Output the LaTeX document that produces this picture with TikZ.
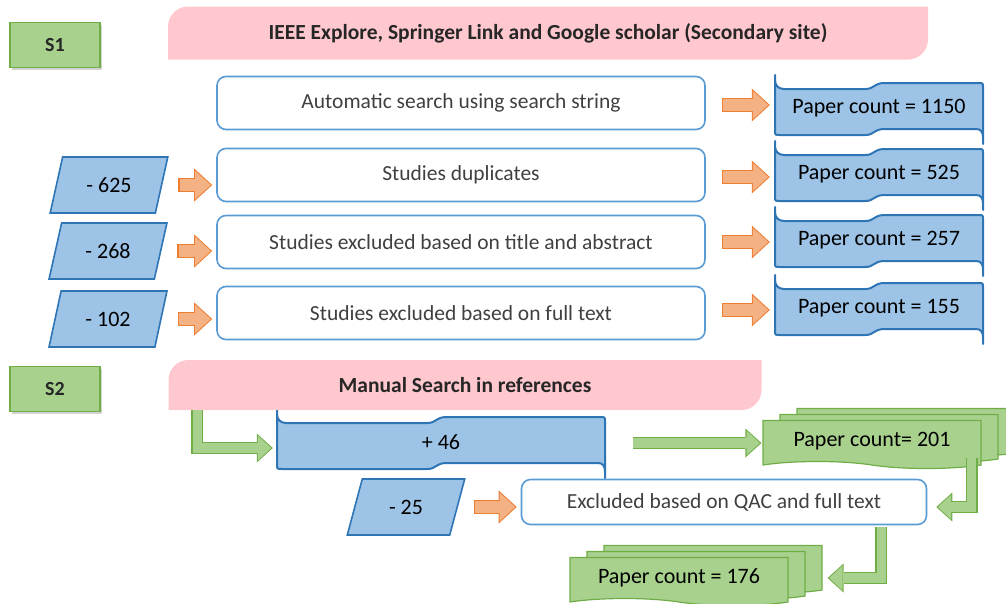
\documentclass[tikz,border=0pt]{standalone}
\usepackage{fontspec}
\setmainfont{Carlito}
\usepackage{tikz}
\usetikzlibrary{arrows.meta,calc,shadows,shapes.geometric,shapes.symbols}
\definecolor{slGreen}{RGB}{169,209,142}
\definecolor{slGreenDk}{RGB}{112,173,71}
\definecolor{slPink}{RGB}{255,199,206}
\definecolor{slBlue}{RGB}{157,195,230}
\definecolor{slBlueDk}{RGB}{46,117,182}
\definecolor{slFrame}{RGB}{91,155,213}
\definecolor{slOrange}{RGB}{244,177,131}
\definecolor{slOrangeDk}{RGB}{237,125,49}
\definecolor{slText}{RGB}{38,38,38}
\definecolor{slGray}{RGB}{64,64,64}
\tikzset{
    base/.style={font=\fontsize{21pt}{24pt}\selectfont, text=slText, align=center, inner sep=0pt},
    stage/.style={base, font=\fontsize{20pt}{24pt}\selectfont\bfseries, rectangle, draw=slGreenDk,
                  line width=1.5pt, fill=slGreen, minimum width=90pt, minimum height=45pt,
                  drop shadow={opacity=0.35, shadow xshift=1.5pt, shadow yshift=-2pt}},
    header/.style={base, font=\fontsize{21.5pt}{24pt}\selectfont\bfseries,
                   path picture={\fill[slPink] let \p1=(path picture bounding box.south west),
                     \p2=(path picture bounding box.north east) in
                     (\x1,\y1) -- (\x1,\y2-20pt) arc[start angle=180, end angle=90, radius=20pt]
                     -- (\x2,\y2) -- (\x2,\y1+20pt) arc[start angle=0, end angle=-90, radius=20pt] -- cycle;}},
    task/.style={base, text=slGray, font=\fontsize{21.5pt}{24pt}\selectfont, rectangle, rounded corners=9pt,
                 draw=slFrame, line width=1.6pt, fill=white, minimum width=488pt, minimum height=53pt},
    removed/.style={base, text=black, font=\fontsize{22pt}{24pt}\selectfont, trapezium, trapezium stretches=true,
                    trapezium left angle=68, trapezium right angle=112, draw=slBlueDk, line width=1.6pt,
                    fill=slBlue, minimum width=118pt, minimum height=56pt},
    count/.style={base, text=black, font=\fontsize{22pt}{24pt}\selectfont, minimum width=212pt, minimum height=76pt,
                  path picture={\draw[draw=slBlueDk, fill=slBlue, line width=2pt, line join=round]
                    let \p1=(path picture bounding box.west), \p2=(path picture bounding box.east),
                    \p3=(path picture bounding box.center) in
                    (\x1+2pt,\y1+33pt) -- (\x1+2pt,\y1-23pt) .. controls (\x1+2pt,\y1-27pt) .. (\x1+7pt,\y1-27pt)
                    -- (\x3-14pt,\y1-27pt) .. controls (\x3-4pt,\y1-27pt) and (\x3-6pt,\y1-21pt) .. (\x3+6pt,\y1-21pt)
                    -- (\x2-9pt,\y1-21pt) .. controls (\x2-4pt,\y1-21pt) and (\x2-2pt,\y1-24pt) .. (\x2-2pt,\y1-30pt)
                    -- (\x2-2pt,\y1-36pt) -- (\x2-2pt,\y1+21pt) .. controls (\x2-2pt,\y1+25pt) .. (\x2-7pt,\y1+25pt)
                    -- (\x3+6pt,\y1+25pt) .. controls (\x3-6pt,\y1+25pt) and (\x3-4pt,\y1+19pt) .. (\x3-14pt,\y1+19pt)
                    -- (\x1+11pt,\y1+19pt) .. controls (\x1+5pt,\y1+19pt) and (\x1+2pt,\y1+23pt) .. (\x1+2pt,\y1+28pt)
                    -- cycle;}},
    pile/.style={base, text=black, font=\fontsize{22pt}{24pt}\selectfont, tape, tape bend top=none,
                 tape bend bottom=out and in, tape bend height=7pt, draw=slGreenDk, line width=1.2pt,
                 fill=slGreen, minimum width=218pt, minimum height=48pt,
                 copy shadow={shadow xshift=34pt, shadow yshift=12pt, fill=slGreen, draw=slGreenDk},
                 copy shadow={shadow xshift=17pt, shadow yshift=6pt, fill=slGreen, draw=slGreenDk}},
    oarrow/.style={draw=slOrangeDk, line width=14pt, -{Triangle[length=18pt,width=33pt,line width=0pt]},
                   postaction={draw=slOrange, line width=11.5pt, shorten <=1.2pt, shorten >=1.5pt,
                   -{Triangle[length=15.5pt,width=28.5pt,line width=0pt]}}},
    garrow/.style={draw=slGreenDk, line width=12pt, line join=miter, -{Triangle[length=16pt,width=29pt,line width=0pt]},
                   postaction={draw=slGreen, line width=9.6pt, line join=miter, shorten >=1.6pt,
                   -{Triangle[length=13.3pt,width=24.6pt,line width=0pt]}}}
}

\begin{document}
\begin{tikzpicture}[x=1pt, y=-1pt]
  \useasboundingbox (0,0) rectangle (1006,603);

  % Stages
  \node[stage] (s1) at (55,45) {S1};
  \node[stage] (s2) at (55,389) {S2};

  % Secondary sites
  \node[header, minimum width=760pt, minimum height=53pt] (src) at (548,33)
    {IEEE Explore, Springer Link and Google scholar (Secondary site)};

  % Selection steps
  \node[task] (auto) at (461,103) {Automatic search using search string};
  \node[task] (dup) at (461,175) {Studies duplicates};
  \node[task] (title) at (461,242) {Studies excluded based on title and abstract};
  \node[task] (full) at (461,313) {Studies excluded based on full text};

  % Removed papers
  \node[removed] (m625) at (109,185) {- 625};
  \node[removed] (m268) at (108,251) {- 268};
  \node[removed] (m102) at (108,319) {- 102};

  % Paper counts
  \node[count] (c1150) at (879,108) {Paper count = 1150};
  \node[count] (c525) at (879,174) {Paper count = 525};
  \node[count] (c257) at (879,240) {Paper count = 257};
  \node[count] (c155) at (879,308) {Paper count = 155};

  % Manual search
  \node[count, minimum width=332pt] (plus) at (441,442) {+ 46};
  \node[header, minimum width=593pt, minimum height=50pt] (man) at (465,385) {Manual Search in references};
  \node[pile] (p201) at (872,441) {Paper count= 201};
  \node[task, minimum width=405pt, minimum height=45pt] (qac) at (724,502) {Excluded based on QAC and full text};
  \node[removed] (m25) at (406,507) {- 25};
  \node[pile] (p176) at (679,578) {Paper count = 176};

  % Arrows
  \draw[oarrow] ($(auto.east)+(16,2)$) -- ($(c1150.west |- auto.east)+(-3,2)$);
  \draw[oarrow] ($(dup.east)+(16,2)$) -- ($(c525.west |- dup.east)+(-3,2)$);
  \draw[oarrow] ($(title.east)+(16,0)$) -- ($(c257.west |- title.east)+(-3,0)$);
  \draw[oarrow] ($(full.east)+(16,-3)$) -- ($(c155.west |- full.east)+(-3,-3)$);
  \draw[oarrow] ($(m625.east)+(16,0)$) -- ($(dup.west |- m625.east)+(-4,0)$);
  \draw[oarrow] ($(m268.east)+(16,0)$) -- ($(title.west |- m268.east)+(-4,0)$);
  \draw[oarrow] ($(m102.east)+(16,0)$) -- ($(full.west |- m102.east)+(-4,0)$);
  \draw[oarrow] ($(m25.east)+(16,0)$) -- ($(qac.west |- m25.east)+(-4,0)$);

  \draw[garrow] ([xshift=29pt]man.south west) |- ($(plus.west)+(-2,6)$);
  \draw[garrow] ($(plus.east)+(26,1)$) -- ($(p201.west |- plus.east)+(-1,1)$);
  \draw[garrow] ($(p201.east |- p201.south)+(-10,-4)$) |- ($(qac.east)+(9,5)$);
  \draw[garrow] ($(qac.south east)+(-46,2)$) |- ($(p176.east)+(39,0)$);
\end{tikzpicture}
\end{document}
